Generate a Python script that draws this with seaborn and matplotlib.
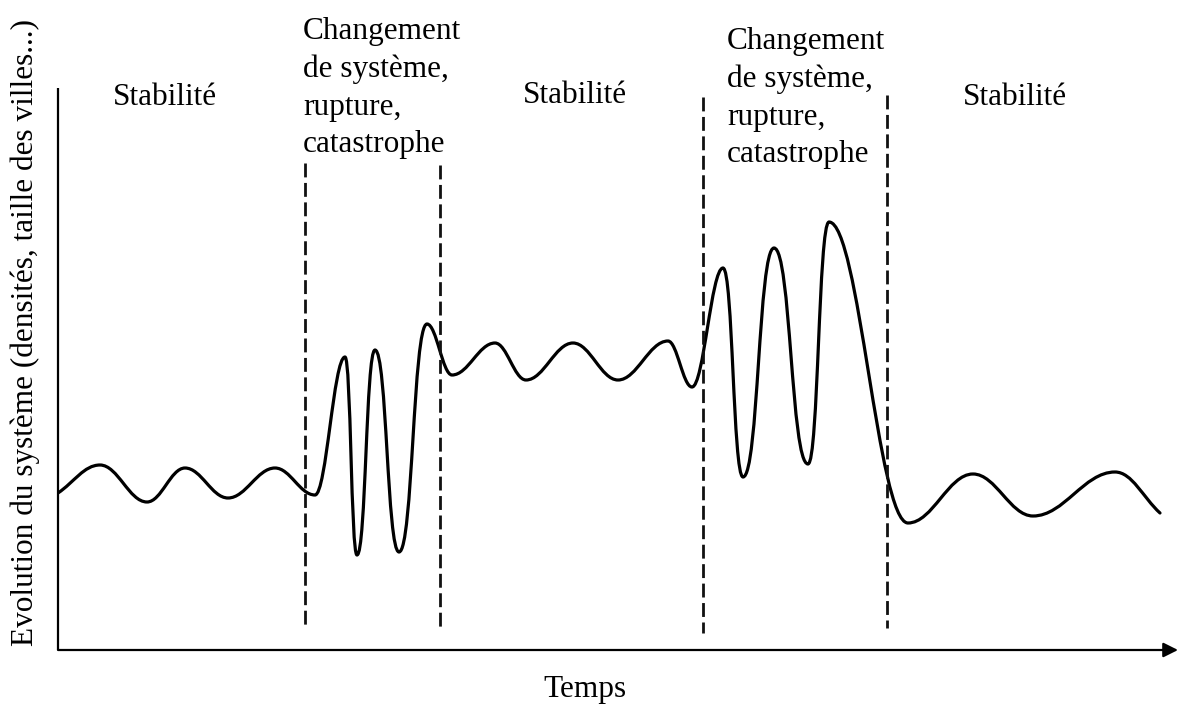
import numpy as np
import pandas as pd
import matplotlib
matplotlib.use('Agg')
import matplotlib.pyplot as plt
from matplotlib.path import Path
from matplotlib.patches import PathPatch
import seaborn as sns

# ── data: turning points of the system curve (time, value) ───────────────────
t_pts = [0.0, 4.2, 8.9, 12.7, 17.0, 21.7, 25.7, 28.7, 29.9, 31.7, 34.1, 36.9,
         39.4, 43.7, 46.8, 51.5, 56.0, 61.0, 63.4, 66.5, 68.5, 71.6, 75.0,
         77.1, 85.0, 91.5, 97.5, 105.7, 110.2]
v_pts = [15.7, 18.5, 14.8, 18.2, 15.2, 18.2, 15.5, 29.3, 9.5, 30.0, 9.8, 32.6,
         27.5, 30.7, 27.0, 30.7, 27.0, 30.9, 26.3, 38.2, 17.3, 40.2, 18.6,
         42.8, 12.7, 17.6, 13.4, 17.8, 13.7]

# phase boundaries (dashed dividers)
div_t = [24.7, 38.2, 64.5, 82.9]
div_top = [48.7, 48.5, 55.3, 55.5]
div_bot = [2.2, 2.0, 1.7, 2.2]

phase_stable = ['Stabilité', 'Stabilité', 'Stabilité']
stable_t = [10.7, 51.7, 95.7]
stable_v = [55.3, 55.5, 55.3]
phase_change = 'Changement\nde système,\nrupture,\ncatastrophe'
change_t = [24.5, 66.9]
change_v = [56.2, 55.2]

x_label = 'Temps'
y_label = 'Evolution du système (densités, taille des villes...)'

# ── figure ───────────────────────────────────────────────────────────────────
sns.set_theme(style='white')
plt.rcParams['font.family'] = ['Liberation Serif', 'DejaVu Serif']
plt.rcParams['text.color'] = 'black'

fig = plt.figure(figsize=(12.03, 7.06), dpi=100)
W, H = 1203, 706
ax = fig.add_axes([58 / W, (H - 650) / H, (1178 - 58) / W, (650 - 88) / H])
ax.set_xlim(0, 112)
ax.set_ylim(0, 56.2)
ax.axis('off')

# smooth curve: cubic bezier between turning points, flat handles at extrema
verts = [(t_pts[0], v_pts[0])]
codes = [Path.MOVETO]
n = len(t_pts)
for i in range(n - 1):
    x0, y0 = t_pts[i], v_pts[i]
    x1, y1 = t_pts[i + 1], v_pts[i + 1]
    dx = x1 - x0
    k = 0.5 if abs(y1 - y0) > 5 * dx else 0.38
    if i == 0:
        c1 = (x0 + k * dx, y0 + k * (y1 - y0))
    else:
        c1 = (x0 + k * dx, y0)
    if i == n - 2:
        c2 = (x1 - k * dx, y1 - k * (y1 - y0))
    else:
        c2 = (x1 - k * dx, y1)
    verts += [c1, c2, (x1, y1)]
    codes += [Path.CURVE4] * 3
ax.add_patch(PathPatch(Path(verts, codes), fill=False, lw=2.3, color='black',
                       capstyle='round', joinstyle='round'))

# dashed dividers
div_df = pd.DataFrame({
    't': [v for t in div_t for v in (t, t)],
    'v': [v for a, b in zip(div_top, div_bot) for v in (a, b)],
    'g': [i for i in range(len(div_t)) for _ in (0, 1)],
})
for g, sub in div_df.groupby('g'):
    ax.plot(sub['t'], sub['v'], color='#111111', lw=2.0, dashes=(5, 2),
            clip_on=False)

# axes: y line and x arrow
ax.plot([0, 0], [0, 1], transform=ax.transAxes, color='black', lw=1.6,
        clip_on=False, solid_capstyle='butt')
ax.annotate('', xy=(1.0, 0), xytext=(0, 0), xycoords='axes fraction',
            arrowprops=dict(arrowstyle='-|>', lw=1.6, color='black',
                            mutation_scale=22, shrinkA=0, shrinkB=0))

# labels
fs = 22.5
for lab, t, v in zip(phase_stable, stable_t, stable_v):
    ax.text(t, v, lab, fontsize=fs, ha='center', va='center', color='black')
for t, v in zip(change_t, change_v):
    ax.text(t, v, phase_change, fontsize=fs, ha='left', va='center',
            linespacing=1.38, color='black')
ax.text(52.7, -4.0, x_label, fontsize=fs, ha='center', va='center',
        color='black')
ax.text(-3.3, 31.8, y_label, fontsize=fs, ha='center', va='center',
        rotation=90, color='black')

fig.savefig('out.png', dpi=100, facecolor='white')
plt.close(fig)
